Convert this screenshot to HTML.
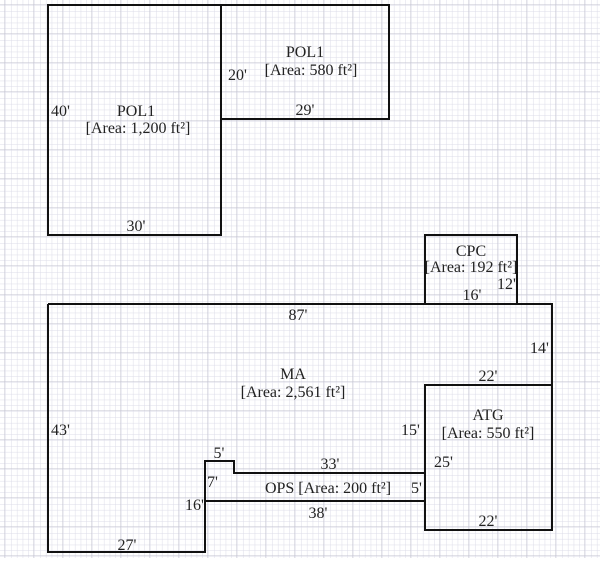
<!DOCTYPE html>
<html><head><style>
body{margin:0;width:600px;height:558px;overflow:hidden;background:#fff}
svg text{font-family:"Liberation Serif",serif;font-size:16px;fill:#222}
</style></head><body>
<svg width="600" height="558" xmlns="http://www.w3.org/2000/svg">
<defs>
<pattern id="g" width="5.8" height="5.8" patternUnits="userSpaceOnUse"><path d="M5.8 0V5.8M0 5.8H5.8" stroke="#dcdce8" stroke-width="1" fill="none"/></pattern>
<pattern id="G" width="29" height="29" patternUnits="userSpaceOnUse" x="4" y="4"><path d="M0 0V29M0 0H29" stroke="#c4c4d2" stroke-width="1" fill="none"/></pattern>
</defs>
<rect width="600" height="558" fill="url(#g)"/>
<rect width="600" height="558" fill="url(#G)"/>
<g stroke="#111" stroke-width="2" fill="none">
<rect x="48" y="5" width="173" height="230"/>
<path d="M221 5H389V119H221"/>
<rect x="425" y="235" width="92" height="69"/>
<path d="M48 304H552V530H425V385H552"/>
<path d="M48 304V552H205V461H234V473H425"/>
<path d="M205 501H425"/>
</g>
<text x="136" y="116" text-anchor="middle">POL1</text>
<text x="138" y="133" text-anchor="middle">[Area: 1,200 ft²]</text>
<text x="51" y="116">40'</text>
<text x="136" y="231" text-anchor="middle">30'</text>
<text x="305" y="57" text-anchor="middle">POL1</text>
<text x="311" y="75" text-anchor="middle">[Area: 580 ft²]</text>
<text x="228" y="80">20'</text>
<text x="305" y="115" text-anchor="middle">29'</text>
<text x="471" y="256" text-anchor="middle">CPC</text>
<text x="471" y="272" text-anchor="middle">[Area: 192 ft²]</text>
<text x="497" y="289">12'</text>
<text x="472" y="300" text-anchor="middle">16'</text>
<text x="298" y="320" text-anchor="middle">87'</text>
<text x="530" y="353">14'</text>
<text x="293" y="379" text-anchor="middle">MA</text>
<text x="293" y="397" text-anchor="middle">[Area: 2,561 ft²]</text>
<text x="488" y="381" text-anchor="middle">22'</text>
<text x="401" y="435">15'</text>
<text x="488" y="420" text-anchor="middle">ATG</text>
<text x="488" y="438" text-anchor="middle">[Area: 550 ft²]</text>
<text x="434" y="467">25'</text>
<text x="488" y="526" text-anchor="middle">22'</text>
<text x="51" y="435">43'</text>
<text x="219" y="458" text-anchor="middle">5'</text>
<text x="330" y="469" text-anchor="middle">33'</text>
<text x="207" y="487">7'</text>
<text x="328" y="493" text-anchor="middle">OPS [Area: 200 ft²]</text>
<text x="411" y="493">5'</text>
<text x="185" y="510">16'</text>
<text x="318" y="518" text-anchor="middle">38'</text>
<text x="127" y="550" text-anchor="middle">27'</text>
</svg>
</body></html>
